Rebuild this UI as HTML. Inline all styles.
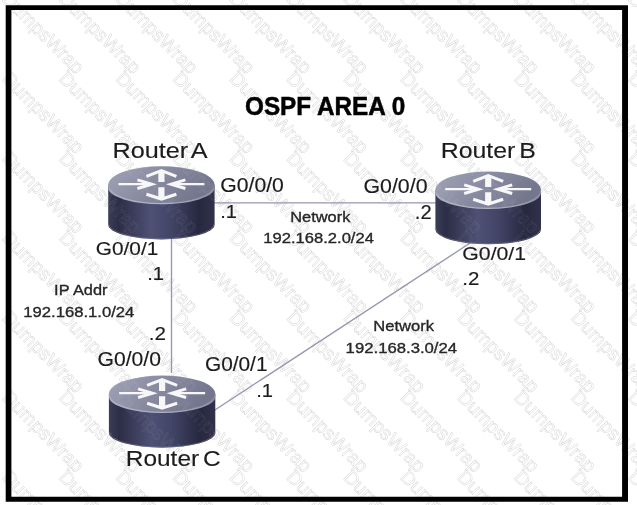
<!DOCTYPE html>
<html lang="en"><head><meta charset="utf-8"><title>OSPF AREA 0</title>
<style>html,body{margin:0;padding:0;background:#fff;overflow:hidden}svg{display:block}text{white-space:pre}</style>
</head><body>
<svg width="637" height="505" viewBox="0 0 637 505" font-family='"Liberation Sans", sans-serif'>
<defs>
<linearGradient id="body" x1="0" x2="1" y1="0" y2="0">
<stop offset="0" stop-color="#3b3d56"/>
<stop offset="0.10" stop-color="#2c2d46"/>
<stop offset="0.40" stop-color="#4e5174"/>
<stop offset="0.60" stop-color="#424466"/>
<stop offset="0.85" stop-color="#272840"/>
<stop offset="1" stop-color="#31324a"/>
</linearGradient>
<linearGradient id="top" x1="0" x2="1" y1="0" y2="0.3">
<stop offset="0" stop-color="#a0a2b6"/>
<stop offset="0.5" stop-color="#898ba1"/>
<stop offset="1" stop-color="#74768e"/>
</linearGradient>
<linearGradient id="rim" x1="0" x2="1" y1="0" y2="0">
<stop offset="0" stop-color="#a9abbe"/>
<stop offset="0.5" stop-color="#b2b4c4"/>
<stop offset="1" stop-color="#8a8ca4"/>
</linearGradient>
</defs>
<rect width="637" height="505" fill="#fff"/>
<defs><g id="wm" font-size="19.2" fill="none" stroke-width="0.5"><text transform="translate(1.0,0.0) rotate(45)">DumpsWrap</text><text transform="translate(57.9,0.0) rotate(45)">DumpsWrap</text><text transform="translate(114.8,0.0) rotate(45)">DumpsWrap</text><text transform="translate(171.7,0.0) rotate(45)">DumpsWrap</text><text transform="translate(228.6,0.0) rotate(45)">DumpsWrap</text><text transform="translate(285.5,0.0) rotate(45)">DumpsWrap</text><text transform="translate(342.4,0.0) rotate(45)">DumpsWrap</text><text transform="translate(399.3,0.0) rotate(45)">DumpsWrap</text><text transform="translate(456.2,0.0) rotate(45)">DumpsWrap</text><text transform="translate(513.1,0.0) rotate(45)">DumpsWrap</text><text transform="translate(570.0,0.0) rotate(45)">DumpsWrap</text><text transform="translate(626.9,0.0) rotate(45)">DumpsWrap</text><text transform="translate(1.0,79.7) rotate(45)">DumpsWrap</text><text transform="translate(57.9,79.7) rotate(45)">DumpsWrap</text><text transform="translate(114.8,79.7) rotate(45)">DumpsWrap</text><text transform="translate(171.7,79.7) rotate(45)">DumpsWrap</text><text transform="translate(228.6,79.7) rotate(45)">DumpsWrap</text><text transform="translate(285.5,79.7) rotate(45)">DumpsWrap</text><text transform="translate(342.4,79.7) rotate(45)">DumpsWrap</text><text transform="translate(399.3,79.7) rotate(45)">DumpsWrap</text><text transform="translate(456.2,79.7) rotate(45)">DumpsWrap</text><text transform="translate(513.1,79.7) rotate(45)">DumpsWrap</text><text transform="translate(570.0,79.7) rotate(45)">DumpsWrap</text><text transform="translate(626.9,79.7) rotate(45)">DumpsWrap</text><text transform="translate(1.0,159.4) rotate(45)">DumpsWrap</text><text transform="translate(57.9,159.4) rotate(45)">DumpsWrap</text><text transform="translate(114.8,159.4) rotate(45)">DumpsWrap</text><text transform="translate(171.7,159.4) rotate(45)">DumpsWrap</text><text transform="translate(228.6,159.4) rotate(45)">DumpsWrap</text><text transform="translate(285.5,159.4) rotate(45)">DumpsWrap</text><text transform="translate(342.4,159.4) rotate(45)">DumpsWrap</text><text transform="translate(399.3,159.4) rotate(45)">DumpsWrap</text><text transform="translate(456.2,159.4) rotate(45)">DumpsWrap</text><text transform="translate(513.1,159.4) rotate(45)">DumpsWrap</text><text transform="translate(570.0,159.4) rotate(45)">DumpsWrap</text><text transform="translate(626.9,159.4) rotate(45)">DumpsWrap</text><text transform="translate(1.0,239.1) rotate(45)">DumpsWrap</text><text transform="translate(57.9,239.1) rotate(45)">DumpsWrap</text><text transform="translate(114.8,239.1) rotate(45)">DumpsWrap</text><text transform="translate(171.7,239.1) rotate(45)">DumpsWrap</text><text transform="translate(228.6,239.1) rotate(45)">DumpsWrap</text><text transform="translate(285.5,239.1) rotate(45)">DumpsWrap</text><text transform="translate(342.4,239.1) rotate(45)">DumpsWrap</text><text transform="translate(399.3,239.1) rotate(45)">DumpsWrap</text><text transform="translate(456.2,239.1) rotate(45)">DumpsWrap</text><text transform="translate(513.1,239.1) rotate(45)">DumpsWrap</text><text transform="translate(570.0,239.1) rotate(45)">DumpsWrap</text><text transform="translate(626.9,239.1) rotate(45)">DumpsWrap</text><text transform="translate(1.0,318.8) rotate(45)">DumpsWrap</text><text transform="translate(57.9,318.8) rotate(45)">DumpsWrap</text><text transform="translate(114.8,318.8) rotate(45)">DumpsWrap</text><text transform="translate(171.7,318.8) rotate(45)">DumpsWrap</text><text transform="translate(228.6,318.8) rotate(45)">DumpsWrap</text><text transform="translate(285.5,318.8) rotate(45)">DumpsWrap</text><text transform="translate(342.4,318.8) rotate(45)">DumpsWrap</text><text transform="translate(399.3,318.8) rotate(45)">DumpsWrap</text><text transform="translate(456.2,318.8) rotate(45)">DumpsWrap</text><text transform="translate(513.1,318.8) rotate(45)">DumpsWrap</text><text transform="translate(570.0,318.8) rotate(45)">DumpsWrap</text><text transform="translate(626.9,318.8) rotate(45)">DumpsWrap</text><text transform="translate(1.0,398.5) rotate(45)">DumpsWrap</text><text transform="translate(57.9,398.5) rotate(45)">DumpsWrap</text><text transform="translate(114.8,398.5) rotate(45)">DumpsWrap</text><text transform="translate(171.7,398.5) rotate(45)">DumpsWrap</text><text transform="translate(228.6,398.5) rotate(45)">DumpsWrap</text><text transform="translate(285.5,398.5) rotate(45)">DumpsWrap</text><text transform="translate(342.4,398.5) rotate(45)">DumpsWrap</text><text transform="translate(399.3,398.5) rotate(45)">DumpsWrap</text><text transform="translate(456.2,398.5) rotate(45)">DumpsWrap</text><text transform="translate(513.1,398.5) rotate(45)">DumpsWrap</text><text transform="translate(570.0,398.5) rotate(45)">DumpsWrap</text><text transform="translate(626.9,398.5) rotate(45)">DumpsWrap</text><text transform="translate(1.0,478.2) rotate(45)">DumpsWrap</text><text transform="translate(57.9,478.2) rotate(45)">DumpsWrap</text><text transform="translate(114.8,478.2) rotate(45)">DumpsWrap</text><text transform="translate(171.7,478.2) rotate(45)">DumpsWrap</text><text transform="translate(228.6,478.2) rotate(45)">DumpsWrap</text><text transform="translate(285.5,478.2) rotate(45)">DumpsWrap</text><text transform="translate(342.4,478.2) rotate(45)">DumpsWrap</text><text transform="translate(399.3,478.2) rotate(45)">DumpsWrap</text><text transform="translate(456.2,478.2) rotate(45)">DumpsWrap</text><text transform="translate(513.1,478.2) rotate(45)">DumpsWrap</text><text transform="translate(570.0,478.2) rotate(45)">DumpsWrap</text><text transform="translate(626.9,478.2) rotate(45)">DumpsWrap</text></g></defs>
<g stroke="#d6d6d6" style="filter:grayscale(1)"><use href="#wm"/></g>
<path fill="#000" fill-rule="evenodd" d="M5.7,5.2 H628.0 V501.8 H5.7 Z M11.4,9.9 V496.8 H622.1 V9.9 Z"/>
<g stroke="#9597ae" stroke-width="1.35" fill="none">
<line x1="212" y1="202.85" x2="438" y2="202.85"/>
<line x1="171.5" y1="236" x2="171.5" y2="373"/>
<line x1="213" y1="411.2" x2="472" y2="241.8"/>
</g>
<g transform="translate(161.4,184.8)">
<path d="M-53.2,0 L-53.2,39.60 A53.2,15.0 0 0 0 53.2,39.60 L53.2,0 Z" fill="url(#body)"/>
<path d="M-52.7,39.00 A52.7,15.0 0 0 0 52.7,39.00" fill="none" stroke="#8587a0" stroke-width="1" opacity="0.45"/>
<path d="M-53.2,0 A53.2,18.6 0 0 1 53.2,0 L53.2,3.0 A53.2,16.40 0 0 1 -53.2,3.0 Z" fill="url(#rim)"/>
<ellipse cx="0" cy="0" rx="52.7" ry="18.3" fill="url(#top)"/>
<g fill="none" stroke="#f7f7f9" stroke-linejoin="miter">
<path d="M-43,-0.6 H-10 M43,-0.6 H10" stroke-width="2.3"/>
<path d="M-24,-4.9 L-9.5,-0.6 L-24,3.7 M24,-4.9 L9.5,-0.6 L24,3.7" stroke-width="2.9"/>
<path d="M0,-13.5 V-2.8 M0,2.4 V14" stroke-width="6.2"/>
<path d="M-15,-8.4 L0,-14.2 L15,-8.4 M-15,9.4 L0,14.2 L15,9.4" stroke-width="3.1"/>
</g>
</g>
<g transform="translate(488.2,189.8)">
<path d="M-52.8,0 L-52.8,39.50 A52.8,15.0 0 0 0 52.8,39.50 L52.8,0 Z" fill="url(#body)"/>
<path d="M-52.3,38.90 A52.3,15.0 0 0 0 52.3,38.90" fill="none" stroke="#8587a0" stroke-width="1" opacity="0.45"/>
<path d="M-52.8,0 A52.8,18.3 0 0 1 52.8,0 L52.8,3.0 A52.8,16.10 0 0 1 -52.8,3.0 Z" fill="url(#rim)"/>
<ellipse cx="0" cy="0" rx="52.3" ry="18.0" fill="url(#top)"/>
<g fill="none" stroke="#f7f7f9" stroke-linejoin="miter">
<path d="M-43,-0.6 H-10 M43,-0.6 H10" stroke-width="2.3"/>
<path d="M-24,-4.9 L-9.5,-0.6 L-24,3.7 M24,-4.9 L9.5,-0.6 L24,3.7" stroke-width="2.9"/>
<path d="M0,-13.5 V-2.8 M0,2.4 V14" stroke-width="6.2"/>
<path d="M-15,-8.4 L0,-14.2 L15,-8.4 M-15,9.4 L0,14.2 L15,9.4" stroke-width="3.1"/>
</g>
</g>
<g transform="translate(162.1,393.8)">
<path d="M-53.2,0 L-53.2,38.90 A53.2,15.0 0 0 0 53.2,38.90 L53.2,0 Z" fill="url(#body)"/>
<path d="M-52.7,38.30 A52.7,15.0 0 0 0 52.7,38.30" fill="none" stroke="#8587a0" stroke-width="1" opacity="0.45"/>
<path d="M-53.2,0 A53.2,18.3 0 0 1 53.2,0 L53.2,3.0 A53.2,16.10 0 0 1 -53.2,3.0 Z" fill="url(#rim)"/>
<ellipse cx="0" cy="0" rx="52.7" ry="18.0" fill="url(#top)"/>
<g fill="none" stroke="#f7f7f9" stroke-linejoin="miter">
<path d="M-43,-0.6 H-10 M43,-0.6 H10" stroke-width="2.3"/>
<path d="M-24,-4.9 L-9.5,-0.6 L-24,3.7 M24,-4.9 L9.5,-0.6 L24,3.7" stroke-width="2.9"/>
<path d="M0,-13.5 V-2.8 M0,2.4 V14" stroke-width="6.2"/>
<path d="M-15,-8.4 L0,-14.2 L15,-8.4 M-15,9.4 L0,14.2 L15,9.4" stroke-width="3.1"/>
</g>
</g>
<clipPath id="rc"><rect x="107" y="165" width="109" height="76"/><rect x="434" y="170" width="109" height="76"/><rect x="107" y="374" width="110" height="76"/></clipPath>
<g stroke="#ffffff" opacity="0.10" clip-path="url(#rc)"><use href="#wm"/></g>
<g style="filter:grayscale(1)"><text x="245.01" y="114.90" font-size="26.02" font-weight="bold" fill="#000" stroke="#000" stroke-width="0.5" textLength="160.17" lengthAdjust="spacingAndGlyphs" >OSPF AREA 0</text>
<text x="112.56" y="158.00" font-size="22.67" font-weight="normal" fill="#1c1c1c" stroke="#1c1c1c" stroke-width="0.15" textLength="95.09" lengthAdjust="spacingAndGlyphs"  style="word-spacing:-2.72px">Router A</text>
<text x="440.76" y="158.00" font-size="22.67" font-weight="normal" fill="#1c1c1c" stroke="#1c1c1c" stroke-width="0.15" textLength="95.15" lengthAdjust="spacingAndGlyphs"  style="word-spacing:-2.72px">Router B</text>
<text x="125.80" y="466.20" font-size="22.67" font-weight="normal" fill="#1c1c1c" stroke="#1c1c1c" stroke-width="0.15" textLength="94.83" lengthAdjust="spacingAndGlyphs"  style="word-spacing:-2.72px">Router C</text>
<text x="220.34" y="192.40" font-size="19.33" font-weight="normal" fill="#1c1c1c" stroke="#1c1c1c" stroke-width="0.15" textLength="63.49" lengthAdjust="spacingAndGlyphs" >G0/0/0</text>
<text x="363.43" y="192.80" font-size="19.33" font-weight="normal" fill="#1c1c1c" stroke="#1c1c1c" stroke-width="0.15" textLength="64.11" lengthAdjust="spacingAndGlyphs" >G0/0/0</text>
<text x="220.17" y="218.00" font-size="19.19" font-weight="normal" fill="#1c1c1c" stroke="#1c1c1c" stroke-width="0.15" textLength="16.71" lengthAdjust="spacingAndGlyphs" >.1</text>
<text x="414.85" y="218.90" font-size="19.33" font-weight="normal" fill="#1c1c1c" stroke="#1c1c1c" stroke-width="0.15" textLength="16.86" lengthAdjust="spacingAndGlyphs" >.2</text>
<text x="290.26" y="221.60" font-size="14.97" font-weight="normal" fill="#262626" stroke="#262626" stroke-width="0.35" textLength="60.12" lengthAdjust="spacingAndGlyphs" >Network</text>
<text x="263.34" y="242.50" font-size="15.12" font-weight="normal" fill="#262626" stroke="#262626" stroke-width="0.35" textLength="110.55" lengthAdjust="spacingAndGlyphs" >192.168.2.0/24</text>
<text x="95.85" y="255.30" font-size="18.75" font-weight="normal" fill="#1c1c1c" stroke="#1c1c1c" stroke-width="0.15" textLength="62.46" lengthAdjust="spacingAndGlyphs" >G0/0/1</text>
<text x="147.26" y="280.40" font-size="18.90" font-weight="normal" fill="#1c1c1c" stroke="#1c1c1c" stroke-width="0.15" textLength="16.83" lengthAdjust="spacingAndGlyphs" >.1</text>
<text x="54.12" y="295.30" font-size="15.55" font-weight="normal" fill="#262626" stroke="#262626" stroke-width="0.35" textLength="53.34" lengthAdjust="spacingAndGlyphs" >IP Addr</text>
<text x="23.33" y="316.70" font-size="15.55" font-weight="normal" fill="#262626" stroke="#262626" stroke-width="0.35" textLength="111.06" lengthAdjust="spacingAndGlyphs" >192.168.1.0/24</text>
<text x="148.71" y="340.00" font-size="19.19" font-weight="normal" fill="#1c1c1c" stroke="#1c1c1c" stroke-width="0.15" textLength="17.22" lengthAdjust="spacingAndGlyphs" >.2</text>
<text x="97.54" y="366.10" font-size="19.33" font-weight="normal" fill="#1c1c1c" stroke="#1c1c1c" stroke-width="0.15" textLength="63.39" lengthAdjust="spacingAndGlyphs" >G0/0/0</text>
<text x="204.95" y="370.50" font-size="19.33" font-weight="normal" fill="#1c1c1c" stroke="#1c1c1c" stroke-width="0.15" textLength="62.57" lengthAdjust="spacingAndGlyphs" >G0/0/1</text>
<text x="256.16" y="396.60" font-size="19.19" font-weight="normal" fill="#1c1c1c" stroke="#1c1c1c" stroke-width="0.15" textLength="16.83" lengthAdjust="spacingAndGlyphs" >.1</text>
<text x="373.24" y="330.70" font-size="15.55" font-weight="normal" fill="#262626" stroke="#262626" stroke-width="0.35" textLength="60.73" lengthAdjust="spacingAndGlyphs" >Network</text>
<text x="345.63" y="353.40" font-size="15.55" font-weight="normal" fill="#262626" stroke="#262626" stroke-width="0.35" textLength="111.46" lengthAdjust="spacingAndGlyphs" >192.168.3.0/24</text>
<text x="462.33" y="259.50" font-size="18.75" font-weight="normal" fill="#1c1c1c" stroke="#1c1c1c" stroke-width="0.15" textLength="63.70" lengthAdjust="spacingAndGlyphs" >G0/0/1</text>
<text x="462.33" y="285.40" font-size="19.19" font-weight="normal" fill="#1c1c1c" stroke="#1c1c1c" stroke-width="0.15" textLength="17.10" lengthAdjust="spacingAndGlyphs" >.2</text></g>
</svg>
</body></html>
